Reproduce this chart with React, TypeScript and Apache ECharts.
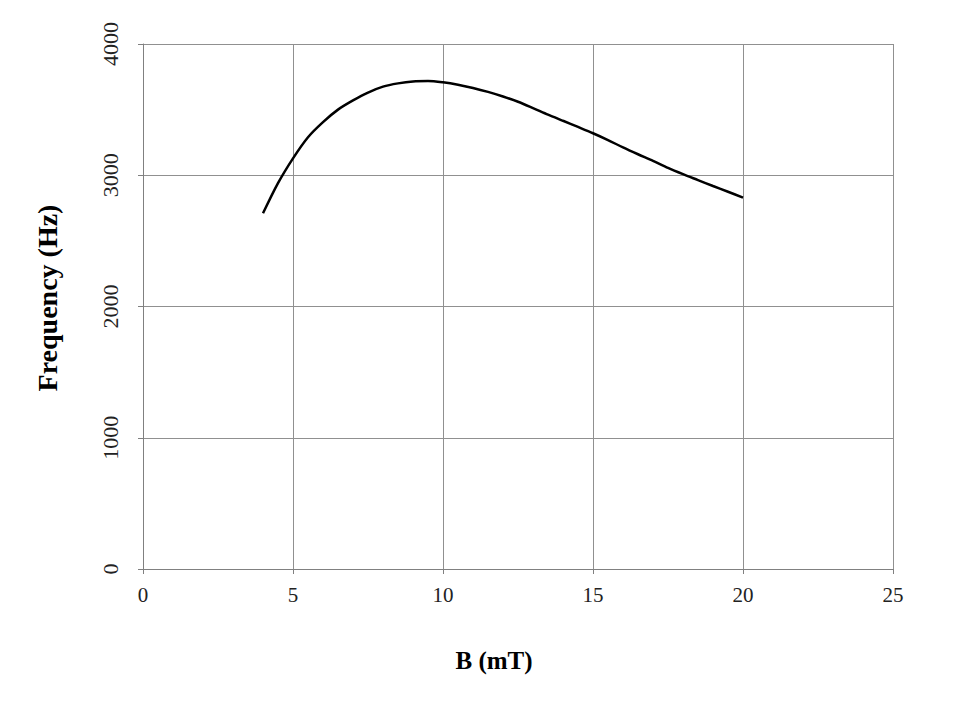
import React, { useEffect, useRef } from "react";
import * as echarts from "echarts";

const bValues = [4, 4.5, 5, 5.5, 6, 6.5, 7, 7.5, 8, 8.5, 9, 9.5, 10, 10.5, 11, 11.5, 12, 12.5, 13, 13.5, 14, 14.5, 15, 15.5, 16, 16.5, 17, 17.5, 18, 18.5, 19, 19.5, 20];
const freqValues = [2710, 2940, 3129, 3290, 3405, 3500, 3570, 3630, 3675, 3700, 3715, 3718, 3708, 3690, 3665, 3635, 3600, 3560, 3512, 3462, 3415, 3368, 3320, 3268, 3212, 3160, 3110, 3056, 3008, 2963, 2918, 2874, 2830];

const xTitle = "B (mT)";
const yTitle = "Frequency (Hz)";

export default function App() {
  const ref = useRef<HTMLDivElement>(null);
  useEffect(() => {
    if (!ref.current) return;
    const chart = echarts.init(ref.current, null, { renderer: "svg" });
    const font = "'Liberation Serif', 'Times New Roman', serif";
    chart.setOption({
      animation: false,
      backgroundColor: "#ffffff",
      grid: { left: 143, right: 67, top: 44, bottom: 151 },
      xAxis: {
        type: "value",
        min: 0,
        max: 25,
        interval: 5,
        axisLine: { show: true, lineStyle: { color: "#808080", width: 1 } },
        axisTick: { show: true, length: 5, lineStyle: { color: "#808080" } },
        splitLine: { show: true, lineStyle: { color: "#909090", width: 1 } },
        axisLabel: { color: "#222", fontFamily: font, fontSize: 21, margin: 15 },
      },
      yAxis: {
        type: "value",
        min: 0,
        max: 4000,
        interval: 1000,
        axisLine: { show: true, lineStyle: { color: "#808080", width: 1 } },
        axisTick: { show: true, length: 5, lineStyle: { color: "#808080" } },
        splitLine: { show: true, lineStyle: { color: "#909090", width: 1 } },
        axisLabel: {
          color: "#222",
          fontFamily: font,
          fontSize: 22,
          rotate: 90,
          margin: 22,
          formatter: (v: number) => String(v),
        },
      },
      graphic: [
        {
          type: "text",
          x: 494,
          y: 660,
          style: {
            text: xTitle,
            fontFamily: font,
            fontSize: 25,
            fontWeight: "bold",
            fill: "#000",
            align: "center",
            verticalAlign: "middle",
          },
        },
        {
          type: "text",
          x: 47,
          y: 298,
          rotation: Math.PI / 2,
          style: {
            text: yTitle,
            fontFamily: font,
            fontSize: 28,
            fontWeight: "bold",
            fill: "#000",
            align: "center",
            verticalAlign: "middle",
          },
        },
      ],
      series: [
        {
          type: "line",
          data: bValues.map((b, i) => [b, freqValues[i]]),
          smooth: 0.3,
          showSymbol: false,
          lineStyle: { color: "#000", width: 2.5 },
        },
      ],
    });
    return () => chart.dispose();
  }, []);
  return <div ref={ref} style={{ width: 960, height: 720, margin: -8 }} />;
}
